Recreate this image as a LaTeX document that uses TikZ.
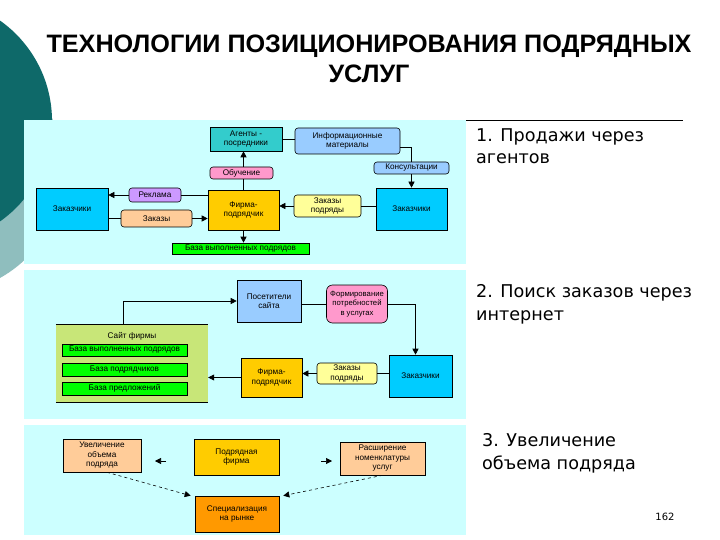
\documentclass[tikz,border=0pt]{standalone}
\usepackage{fontspec}
\setmainfont{Liberation Sans}
\newfontfamily\verd{DejaVu Sans}
\usetikzlibrary{arrows.meta}
\definecolor{darkteal}{RGB}{14,105,105}
\definecolor{lightteal}{RGB}{143,190,190}
\definecolor{panelc}{RGB}{204,255,255}
\definecolor{tealbox}{RGB}{51,204,204}
\definecolor{lblue}{RGB}{153,204,255}
\definecolor{cyanbox}{RGB}{0,204,255}
\definecolor{lyellow}{RGB}{255,255,153}
\definecolor{goldbox}{RGB}{255,204,0}
\definecolor{pinkbox}{RGB}{255,153,204}
\definecolor{violetbox}{RGB}{204,153,255}
\definecolor{peachbox}{RGB}{255,204,153}
\definecolor{greenbox}{RGB}{0,255,0}
\definecolor{orangebox}{RGB}{255,153,0}
\definecolor{sitebox}{RGB}{200,230,120}
\begin{document}
\begin{tikzpicture}[x=1pt,y=-1pt,
  box/.style={draw=black, line width=0.6pt, inner sep=0pt, align=center,
    font=\fontsize{8.2}{9.5}\selectfont},
  rbox/.style={box, rounded corners=3pt},
  arr/.style={line width=0.6pt, -{Triangle[length=6pt,width=6pt]}},
  ln/.style={line width=0.6pt},
  darr/.style={line width=0.6pt, dashed, -{Triangle[length=6pt,width=6pt]}},
  rtext/.style={anchor=base west, align=left, inner sep=0pt,
    font=\verd\fontsize{17.6}{22.5}\selectfont},
  sz/.style 2 args={minimum width=#1pt, minimum height=#2pt}
]
\useasboundingbox (0,0) rectangle (720,540);
\clip (0,0) rectangle (720,540);
\fill[white] (0,0) rectangle (720,540);
% decoration
\fill[lightteal] (-60,170) circle (123.5);
\fill[darkteal] (-71,121) circle (123);
% panels
\fill[panelc] (24,120) rectangle (466,264);
\fill[panelc] (24,270) rectangle (466,419);
\fill[panelc] (24,425) rectangle (466,535);
% title
\node[font=\bfseries\fontsize{25.2}{30}\selectfont, align=center] (title) at (369,59)
  {ТЕХНОЛОГИИ ПОЗИЦИОНИРОВАНИЯ ПОДРЯДНЫХ\\УСЛУГ};
% rule
\coordinate (rl1) at (466,120);
\coordinate (rl2) at (683,120);
\draw[line width=0.6pt] (rl1) -- (rl2);
% right texts (anchor = baseline of last line)
\node[rtext] (t1) at (476,164) {1. Продажи через\\агентов};
\node[rtext] (t2) at (476,320) {2. Поиск заказов через\\интернет};
\node[rtext] (t3) at (482,469) {3. Увеличение\\объема подряда};
\node[anchor=base, inner sep=0pt, font=\verd\fontsize{10}{12}\selectfont] (pg) at (665,520) {162};

% ---------- panel 1
\node[box, fill=tealbox, sz={72}{24}] (ag) at (246,139) {Агенты -\\посредники};
\node[rbox, fill=lblue, sz={105}{26}] (inf) at (347.5,141) {Информационные\\материалы};
\node[rbox, fill=lblue, sz={75}{12}] (cons) at (411.5,168) {Консультации};
\node[box, fill=cyanbox, sz={71}{42}] (zr) at (411.5,209) {Заказчики};
\node[rbox, fill=lyellow, sz={67}{22}] (zp1) at (327.5,206) {Заказы\\подряды};
\node[box, fill=goldbox, sz={71}{40}] (f1) at (243.5,210) {Фирма-\\подрядчик};
\node[rbox, fill=pinkbox, sz={63}{12}] (ob) at (241.5,173) {Обучение};
\node[box, fill=cyanbox, sz={72}{42}] (zl) at (72,209) {Заказчики};
\node[rbox, fill=violetbox, sz={52}{14}] (rek) at (155,195) {Реклама};
\node[rbox, fill=peachbox, sz={71}{17}] (zk) at (156.5,218.5) {Заказы};
\node[box, fill=greenbox, sz={137}{11}] (bvp1) at (240.5,248.5) {База выполненных подрядов};

\draw[ln] (ag.east) -- (ag.east -| inf.west);
\draw[ln] ([yshift=-6pt]inf.east) -| (cons.north);
\draw[arr] (cons.south) -- (cons.south |- zr.north);
\draw[ln] (zr.west |- zp1.east) -- (zp1.east);
\draw[arr] (zp1.west) -- (zp1.west -| f1.east);
\draw[ln] (f1.north) -- (f1.north |- ob.south);
\draw[arr] (ob.north -| f1.north) -- (ag.south -| f1.north);
\draw[ln] (f1.west |- rek.east) -- (rek.east);
\draw[arr] (rek.west) -- (rek.west -| zl.east);
\draw[ln] (zl.east |- zk.west) -- (zk.west);
\draw[arr] (zk.east) -- (zk.east -| f1.west);
\draw[arr] (f1.south) -- (f1.south |- bvp1.north);

% ---------- panel 2
\node[box, fill=lblue, sz={64}{42}] (pos) at (269,301) {Посетители\\сайта};
\node[inner sep=0pt, fill=sitebox, sz={152}{78}] (sf) at (132,363) {};
\draw[ln] (sf.north west) -- (sf.north east);
\draw[ln] (sf.south west) -- (sf.south east);
\node[inner sep=0pt, font=\fontsize{8.2}{9.5}\selectfont] (sft) at (132,336) {Сайт фирмы};
\node[box, fill=greenbox, sz={125}{12}] (b1) at (124.5,350) {База выполненных подрядов};
\node[box, fill=greenbox, sz={125}{13}] (b2) at (124.5,369.5) {База подрядчиков};
\node[box, fill=greenbox, sz={125}{13}] (b3) at (124.5,388.5) {База предложений};
\node[rbox, fill=pinkbox, sz={61}{38}, rounded corners=6pt, font=\fontsize{7.7}{9.5}\selectfont] (frm) at (357,304) {Формирование\\потребностей\\в услугах};
\node[box, fill=cyanbox, sz={63}{42}] (z2) at (420.5,376) {Заказчики};
\node[rbox, fill=lyellow, sz={60}{21}] (zp2) at (347,373.5) {Заказы\\подряды};
\node[box, fill=goldbox, sz={61}{39}] (f2) at (271.5,377.5) {Фирма-\\подрядчик};

\draw[arr] ([xshift=-9pt]sf.north) |- (pos.west);
\draw[ln] (pos.east |- frm.west) -- (frm.west);
\draw[arr] (frm.east) -| ([xshift=-5pt]z2.north);
\draw[ln] (z2.west |- zp2.east) -- (zp2.east);
\draw[arr] (zp2.west) -- (zp2.west -| f2.east);
\draw[arr] (f2.west) -- (f2.west -| sf.east);

% ---------- panel 3
\node[box, fill=peachbox, sz={78}{33}] (uv) at (102,455.5) {Увеличение\\объема\\подряда};
\node[box, fill=goldbox, sz={85}{36}] (pf) at (236.5,457) {Подрядная\\фирма};
\node[box, fill=peachbox, sz={85}{33}] (ras) at (382.5,458.5) {Расширение\\номенклатуры\\услуг};
\node[box, fill=orangebox, sz={84}{36}] (sp) at (237,514) {Специализация\\на рынке};

\draw[darr] ([xshift=5pt]uv.south) -- ([xshift=-4pt]sp.north west);
\draw[darr] (ras.south) -- ([xshift=4pt]sp.north east);
\coordinate (s1a) at (166,461);
\coordinate (s1b) at (155,461);
\coordinate (s2a) at (321,461);
\coordinate (s2b) at (332,461);
\draw[arr] (s1a) -- (s1b);
\draw[arr] (s2a) -- (s2b);
\end{tikzpicture}
\end{document}
